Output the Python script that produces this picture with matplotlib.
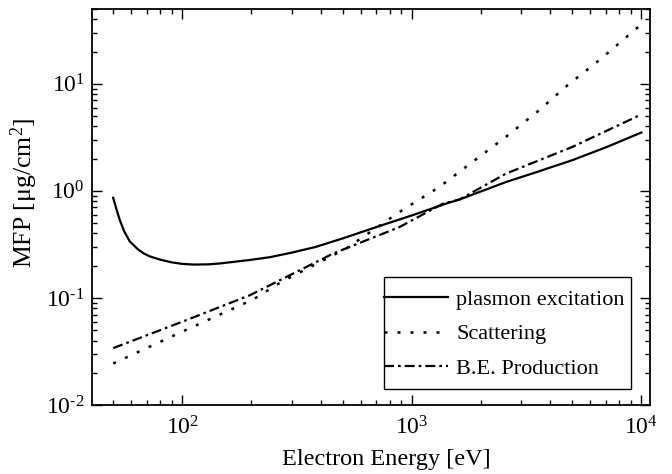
import matplotlib
matplotlib.use("Agg")
import matplotlib.pyplot as plt
from matplotlib.patches import Rectangle
from matplotlib.ticker import LogLocator, FuncFormatter, NullFormatter
import numpy as np

plt.rcParams['font.family'] = ['Liberation Serif', 'DejaVu Serif']
plt.rcParams['mathtext.fontset'] = 'stix'
plt.rcParams['mathtext.default'] = 'regular'

# Data
plasmon_x = [50, 51.7, 53.4, 55.8, 59, 64, 68, 72, 80, 90, 100, 112, 130, 146, 196, 240, 300, 382, 500, 741, 1000, 1442, 1611, 2571, 3500, 5014, 7000, 10000]
plasmon_y = [0.86, 0.67, 0.535, 0.42, 0.338, 0.285, 0.26, 0.245, 0.228, 0.215, 0.208, 0.205, 0.206, 0.21, 0.226, 0.24, 0.265, 0.30, 0.36, 0.478, 0.59, 0.773, 0.83, 1.21, 1.5, 1.94, 2.55, 3.51]

scat_x = [50, 99, 204, 270, 518, 885, 1319, 1967, 2571, 3589, 4766, 6547, 10000]
scat_y = [0.0244, 0.048, 0.097, 0.141, 0.29, 0.637, 1.09, 2.08, 3.2, 5.68, 9.7, 16.6, 36.0]

be_x = [50, 100, 197, 454, 885, 1365, 1611, 2571, 5014, 10000]
be_y = [0.034, 0.06, 0.106, 0.26, 0.46, 0.76, 0.83, 1.45, 2.58, 5.18]

labels = ['plasmon excitation', 'Scattering', 'B.E. Production']

fig = plt.figure(figsize=(6.72, 4.74), dpi=100)
ax = fig.add_axes([91.7/672, 1-405/474, (650-91.7)/672, (405-9)/474])

ax.plot(plasmon_x, plasmon_y, color='black', lw=1.6, ls='-', label=labels[0])
ax.plot(scat_x, scat_y, color='black', lw=1.8, ls=(0, (1.2, 4.0)), label=labels[1])
ax.plot(be_x, be_y, color='black', lw=1.6, ls=(0, (4.5, 1.8, 1.2, 1.8)), label=labels[2])

ax.set_xscale('log')
ax.set_yscale('log')
ax.set_xlim(40.3, 10900)
ax.set_ylim(0.01, 50)


def fmt(v, pos):
    e = int(round(np.log10(v)))
    if e < 0:
        return r'10$^{\text{-}%d}$' % (-e)
    return r'10$^{%d}$' % e


ax.xaxis.set_major_locator(LogLocator(base=10, numticks=10))
ax.yaxis.set_major_locator(LogLocator(base=10, numticks=10))
ax.xaxis.set_major_formatter(FuncFormatter(fmt))
ax.yaxis.set_major_formatter(FuncFormatter(fmt))
ax.xaxis.set_minor_locator(LogLocator(base=10, subs=range(2, 10), numticks=20))
ax.yaxis.set_minor_locator(LogLocator(base=10, subs=range(2, 10), numticks=20))
ax.xaxis.set_minor_formatter(NullFormatter())
ax.yaxis.set_minor_formatter(NullFormatter())

ax.tick_params(which='both', direction='in', top=True, right=True, labelsize=17, width=1.0)
ax.tick_params(which='major', length=7)
ax.tick_params(which='minor', length=3.5)
ax.tick_params(axis='x', which='major', pad=8)
ax.tick_params(axis='y', which='major', pad=5)
for s in ax.spines.values():
    s.set_linewidth(1.3)

ax.set_xlabel('Electron Energy [eV]', fontsize=17.5)
ax.xaxis.set_label_coords((386 - 91.7) / 558.3, (405 - 449) / 396)
ax.set_ylabel('MFP [μg/cm$^2$]', fontsize=18.5)
ax.yaxis.set_label_coords(-(91.7 - 40) / 558.3, (405 - 193) / 396)

leg = ax.legend(loc='center left', bbox_to_anchor=((384 - 91.7) / 558.3, (405 - 334) / 396),
                fontsize=16, frameon=False,
                handlelength=2.9, handletextpad=0.36, borderpad=0.0, labelspacing=0.62,
                borderaxespad=0)
ax.add_patch(Rectangle(((384 - 91.7) / 558.3, (405 - 389.3) / 396),
                       (631 - 384) / 558.3, (389.3 - 276.7) / 396,
                       transform=ax.transAxes, fill=False, edgecolor='black',
                       linewidth=1.0, zorder=4))

fig.savefig('out.png', dpi=100)
